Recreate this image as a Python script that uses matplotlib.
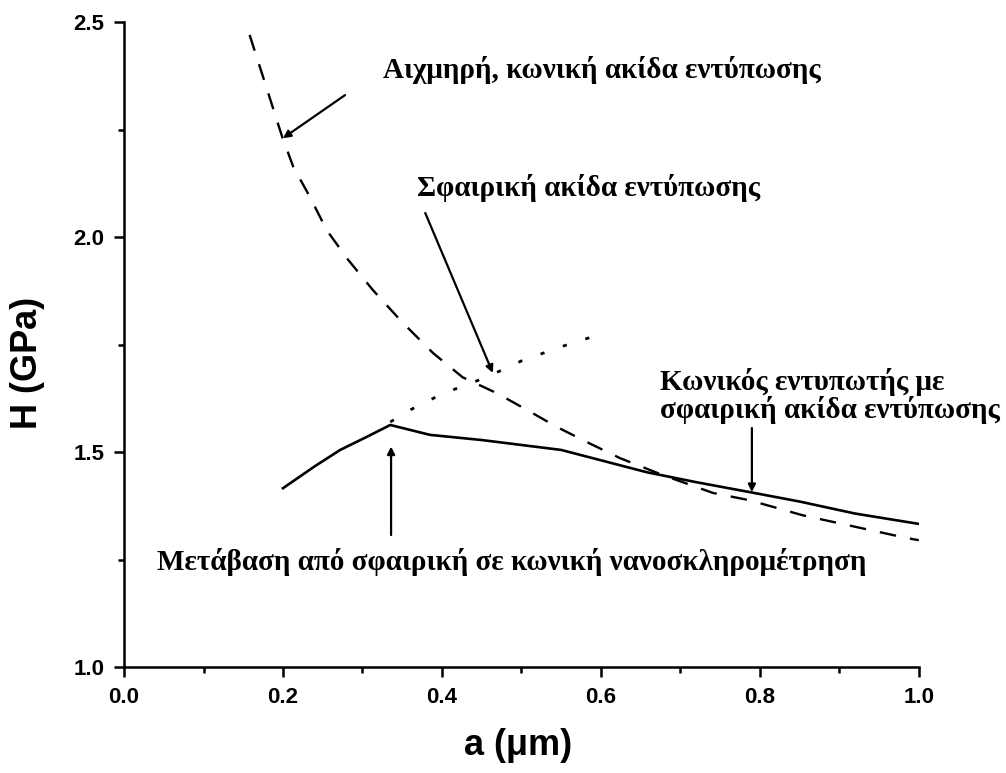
import matplotlib
matplotlib.use('Agg')
from matplotlib import pyplot as plt
from matplotlib.ticker import MultipleLocator

# dashed curve: sharp conical tip
cone_a = [0.158, 0.175, 0.199, 0.213, 0.234, 0.255, 0.282, 0.313, 0.35, 0.389,
          0.426, 0.469, 0.507, 0.545, 0.586, 0.624, 0.68, 0.741, 0.787, 0.854,
          0.938, 0.98, 1.0]
cone_h = [2.47, 2.372, 2.233, 2.163, 2.093, 2.016, 1.947, 1.877, 1.802, 1.73,
          1.674, 1.637, 1.598, 1.558, 1.52, 1.486, 1.445, 1.405, 1.388, 1.353,
          1.319, 1.302, 1.295]

# dotted curve: spherical tip
sph_a = [0.335, 0.36, 0.40, 0.456, 0.50, 0.55, 0.596]
sph_h = [1.57, 1.598, 1.635, 1.674, 1.712, 1.745, 1.772]

# solid curve: conical indenter with spherical tip
cs_a = [0.2, 0.24, 0.272, 0.305, 0.335, 0.385, 0.45, 0.55, 0.658, 0.72, 0.787, 0.85, 0.92, 1.0]
cs_h = [1.416, 1.467, 1.505, 1.535, 1.563, 1.54, 1.528, 1.505, 1.453, 1.43, 1.407, 1.385, 1.357, 1.333]

fig = plt.figure(figsize=(10.06, 7.73), dpi=100)
ax = fig.add_axes([0.1233, 0.137, 0.79, 0.8345])

ax.plot(cone_a, cone_h, color='black', lw=1.7, linestyle=(0, (7, 6)))
ax.plot(sph_a, sph_h, color='black', lw=2.0, linestyle=(0, (1.5, 7)))
ax.plot(cs_a, cs_h, color='black', lw=1.9)

ax.set_xlim(0.0, 1.0)
ax.set_ylim(1.0, 2.5)
ax.xaxis.set_major_locator(MultipleLocator(0.2))
ax.xaxis.set_minor_locator(MultipleLocator(0.1))
ax.yaxis.set_major_locator(MultipleLocator(0.5))
ax.yaxis.set_minor_locator(MultipleLocator(0.25))
ax.set_xticklabels(['%.1f' % v for v in ax.get_xticks()])
ax.set_yticklabels(['%.1f' % v for v in ax.get_yticks()])

for s in ['top', 'right']:
    ax.spines[s].set_visible(False)
for s in ['left', 'bottom']:
    ax.spines[s].set_linewidth(1.8)

ax.tick_params(which='major', direction='out', length=7, width=1.8,
               labelsize=16, pad=7)
ax.tick_params(which='minor', direction='out', length=4.5, width=1.8)
for lab in ax.get_xticklabels() + ax.get_yticklabels():
    lab.set_fontfamily('Liberation Sans')
    lab.set_fontweight('bold')

ax.set_xlabel('a (\u03bcm)', fontsize=26, fontfamily='Liberation Sans',
              fontweight='bold', va='center', ha='center')
ax.set_ylabel('H (GPa)', fontsize=26, fontfamily='Liberation Sans',
              fontweight='bold', va='center', ha='center')
ax.xaxis.set_label_coords(0.496, -0.121)
ax.yaxis.set_label_coords(-0.121, 0.471)

txt = dict(fontsize=21, fontfamily='Liberation Serif', fontweight='bold')
arr = dict(arrowstyle='-|>', color='black', lw=1.6, mutation_scale=11,
           shrinkA=0, shrinkB=0)

ax.text(0.601, 2.388, 'Αιχμηρή, κωνική ακίδα εντύπωσης', ha='center', va='center', **txt)
ax.annotate('', xy=(0.2, 2.23), xytext=(0.278, 2.33), arrowprops=arr)

ax.text(0.584, 2.114, 'Σφαιρική ακίδα εντύπωσης', ha='center', va='center', **txt)
ax.annotate('', xy=(0.464, 1.684), xytext=(0.379, 2.056), arrowprops=arr)

ax.text(0.674, 1.630, 'Κωνικός εντυπωτής με\nσφαιρική ακίδα εντύπωσης',
        ha='left', va='center', linespacing=1.0, **txt)
ax.annotate('', xy=(0.79, 1.407), xytext=(0.79, 1.556), arrowprops=arr)

ax.text(0.488, 1.244, 'Μετάβαση από σφαιρική σε κωνική νανοσκληρομέτρηση',
        ha='center', va='center', **txt)
ax.annotate('', xy=(0.336, 1.513), xytext=(0.336, 1.307), arrowprops=arr)

fig.savefig('out.png', dpi=100)
